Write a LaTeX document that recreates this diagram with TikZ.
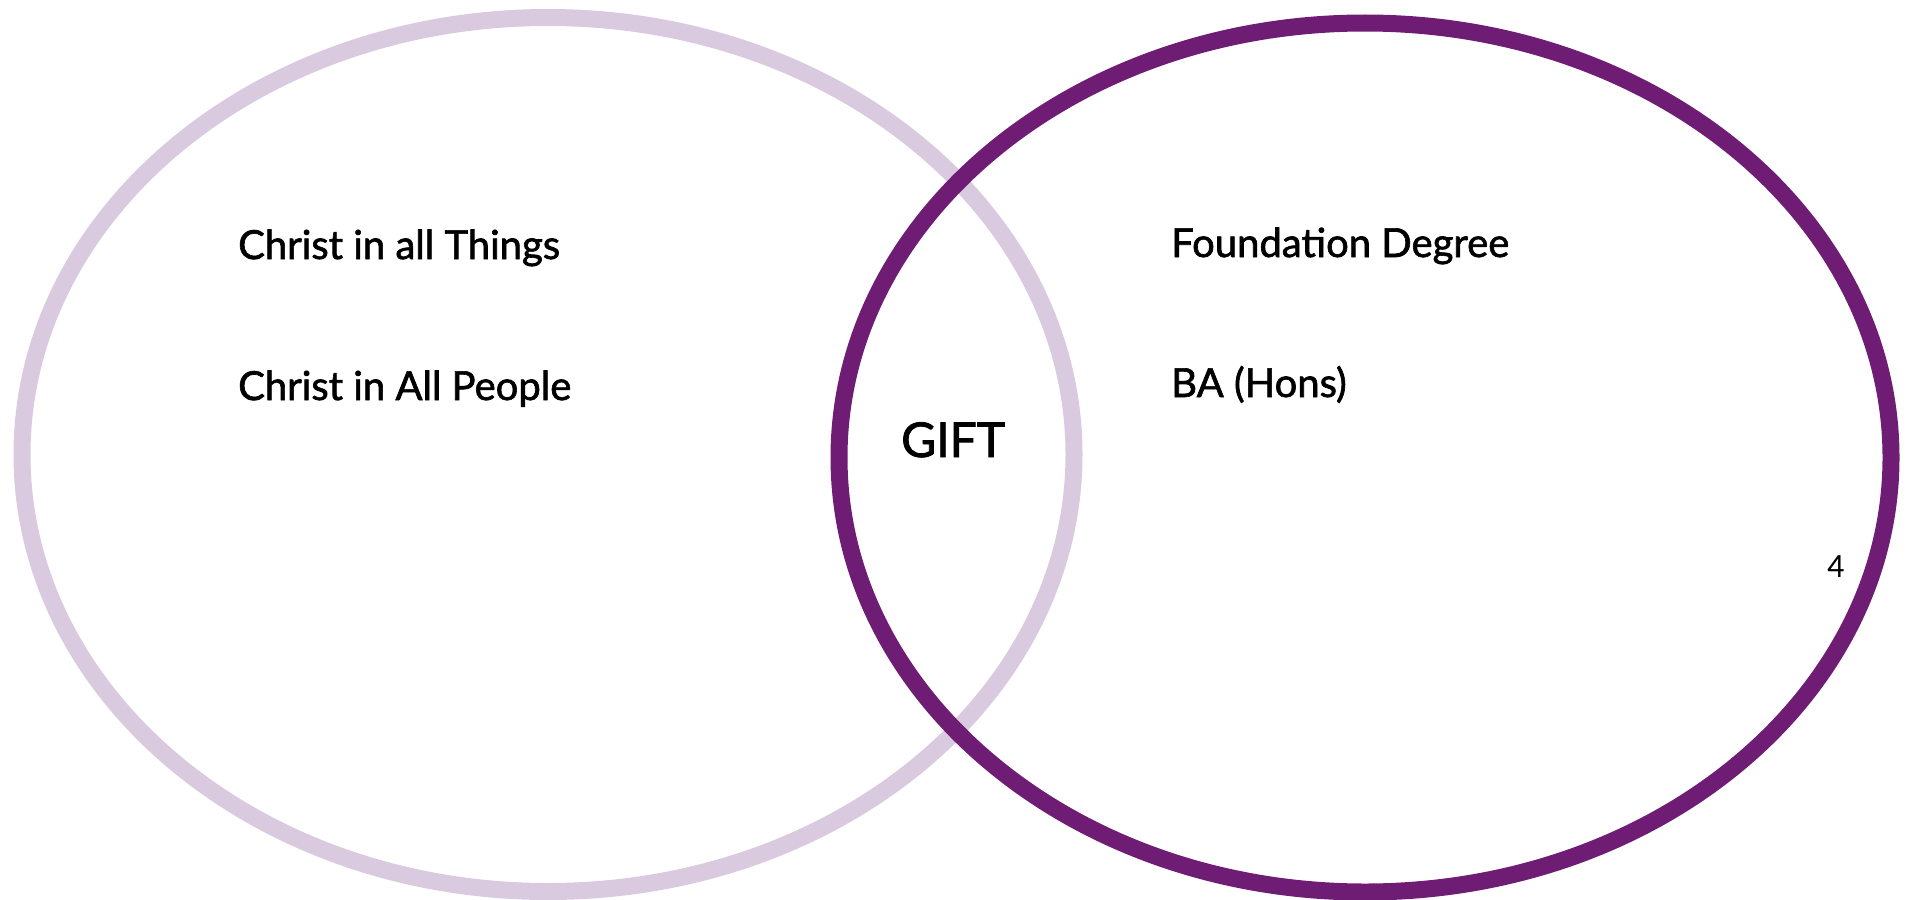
\documentclass[tikz,border=0pt]{standalone}
\usepackage{fontspec}
\setmainfont{Lato}
\newfontfamily\labelfont{Lato}[FakeBold=1.6]
\newfontfamily\numfont{Carlito}
\definecolor{lightpurple}{RGB}{217,202,224}
\definecolor{darkpurple}{RGB}{111,28,117}
\begin{document}
\begin{tikzpicture}[x=1pt,y=-1pt,
  ring/.style={line width=17pt},
  lbl/.style={inner sep=0pt, anchor=base west, font=\labelfont\fontsize{40}{48}\selectfont},
  center lbl/.style={inner sep=0pt, anchor=base west, font=\labelfont\fontsize{48}{58}\selectfont}]
\useasboundingbox (0,0) rectangle (1910,899);
\draw[ring, lightpurple] (548,454.5) ellipse [x radius=526pt, y radius=437pt];
\draw[ring, darkpurple] (1365,457.5) ellipse [x radius=526pt, y radius=434.5pt];
\node[lbl] (t1) at (238,259) {Christ in all Things};
\node[lbl] (t2) at (238,400) {Christ in All People};
\node[lbl] (t3) at (1171,257) {Foundation Degree};
\node[lbl] (t4) at (1171,397) {BA (Hons)};
\node[center lbl] (gift) at (901,457) {GIFT};
\node[inner sep=0pt, anchor=base west, font=\numfont\fontsize{34}{40}\selectfont] (num) at (1827,577) {4};
\end{tikzpicture}
\end{document}
